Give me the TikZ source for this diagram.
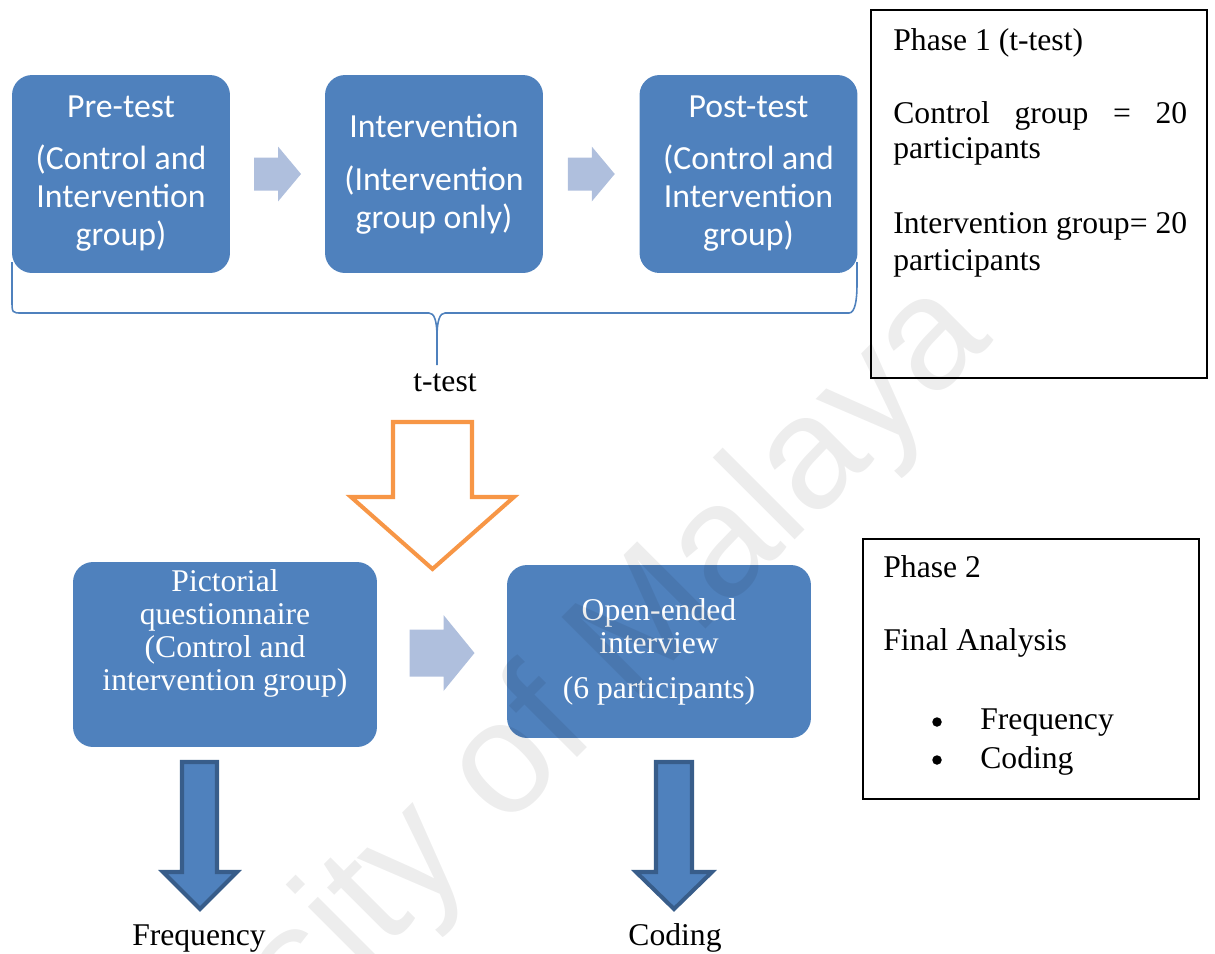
\documentclass[tikz,border=0pt]{standalone}
\usepackage{fontspec}
\setmainfont{Liberation Serif}
\newfontfamily\calfont{Carlito}
\newfontfamily\markfont{Liberation Sans}
\usetikzlibrary{calc}
\definecolor{boxblue}{HTML}{4F81BD}
\definecolor{paleblue}{RGB}{175,191,221}
\definecolor{outlineblue}{HTML}{385D8A}
\definecolor{accentorange}{HTML}{F79646}

\begin{document}
\begin{tikzpicture}[x=0.02cm,y=-0.02cm,
  stage/.style={rectangle, rounded corners=0.4cm, fill=boxblue, text=white,
    align=center, inner sep=0pt},
  topstage/.style={stage, minimum width=4.36cm, minimum height=3.96cm,
    font=\calfont\fontsize{19.2}{21.6}\selectfont},
  lowstage/.style={stage, minimum width=6.08cm, font=\fontsize{18}{18.8}\selectfont},
  lowtext/.style={inner sep=0pt, align=center, text=white,
    font=\fontsize{18}{18.8}\selectfont},
  phasebox/.style={rectangle, draw=black, line width=1.1pt, inner sep=0pt},
  plain/.style={inner sep=0pt, font=\fontsize{18}{20}\selectfont},
  dot/.style={circle, fill=black, inner sep=0pt, minimum size=0.19cm},
  pale/.style={fill=paleblue},
  hollow/.style={draw=accentorange, line width=2.3pt, fill=white, line join=miter},
  downarrow/.style={fill=boxblue, draw=outlineblue, line width=2.3pt, line join=miter},
  brace/.style={draw=boxblue, line width=0.9pt},
  watermark/.style={inner sep=0pt, text=black, text opacity=0.07,
    font=\markfont\fontsize{91}{91}\selectfont}
]
\useasboundingbox (0,0) rectangle (1215,954);

% brace gathering the three first-phase stages
\draw[brace] (12,262) -- (12,300) .. controls (12,313) .. (22,313) -- (429,313)
  .. controls (434,313) and (437,320) .. (437,337) -- (437,365);
\draw[brace] (437,337) .. controls (437,320) and (440,313) .. (445,313) -- (849,313)
  .. controls (855,313) and (857,300) .. (857,285) -- (857,262);
\node[plain, anchor=base] (ttest) at (445,391) {t-test};

% phase 1 stages
\node[topstage] (pre) at (121,174) {Pre-test\\[8pt](Control and\\Intervention\\group)};
\node[topstage] (int) at (434,174) {Intervention\\[8.5pt](Intervention\\group only)};
\node[topstage] (post) at (748.5,174) {Post-test\\[8pt](Control and\\Intervention\\group)};

\coordinate (a1) at ($(pre.east)!.5!(int.west)$);
\coordinate (a2) at ($(int.east)!.5!(post.west)$);
\fill[pale, shift={(a1)}] (-23.5,-16.5) -- (0.5,-16.5) -- (0.5,-27.5) -- (23.5,0)
  -- (0.5,27.5) -- (0.5,16.5) -- (-23.5,16.5) -- cycle;
\fill[pale, shift={(a2)}] (-23.5,-16.5) -- (0.5,-16.5) -- (0.5,-27.5) -- (23.5,0)
  -- (0.5,27.5) -- (0.5,16.5) -- (-23.5,16.5) -- cycle;

% phase 1 summary
\node[phasebox, minimum width=6.72cm, minimum height=7.36cm] (ph1) at (1039,194) {};
\node[plain, anchor=base west] (ph1a) at (893,50) {Phase 1 (t-test)};
\node[plain, anchor=base west] (ph1b) at (893,123) {\makebox[5.88cm][s]{Control group = 20}};
\node[plain, anchor=base west] (ph1c) at (893,158) {participants};
\node[plain, anchor=base west] (ph1d) at (893,233) {\makebox[5.88cm][s]{Intervention group= 20}};
\node[plain, anchor=base west] (ph1e) at (893,270) {participants};

% transition to phase 2
\draw[hollow] (393,422) -- (472,422) -- (472,497) -- (514,497) -- (432.5,569)
  -- (351,497) -- (393,497) -- cycle;

% phase 2 stages
\node[lowstage, minimum height=3.7cm] (pict) at (225,654.5) {};
\node[lowtext] (picttext) at (225,633)
  {Pictorial\\questionnaire\\(Control and\\intervention group)};
\node[lowstage, minimum height=3.46cm] (open) at (659,651.5)
  {Open-ended\\interview\\[6.8pt](6 participants)};

\coordinate (a3) at ($(pict.east)!.5!(open.west)$);
\fill[pale, shift={(a3)}] (-32.5,-23.5) -- (1.5,-23.5) -- (1.5,-38) -- (32.5,0)
  -- (1.5,38) -- (1.5,23.5) -- (-32.5,23.5) -- cycle;

% outcomes
\draw[downarrow] (182,762) -- (217,762) -- (217,872) -- (237,872) -- (200,909)
  -- (163,872) -- (182,872) -- cycle;
\draw[downarrow] (656,762) -- (692,762) -- (692,872) -- (712,872) -- (674,909)
  -- (636,872) -- (656,872) -- cycle;
\node[plain, anchor=base] (freq) at (199,945) {Frequency};
\node[plain, anchor=base] (cod) at (675,945) {Coding};

% phase 2 summary
\node[phasebox, minimum width=6.72cm, minimum height=5.2cm] (ph2) at (1031,669) {};
\node[plain, anchor=base west] (ph2a) at (883,577) {Phase 2};
\node[plain, anchor=base west] (ph2b) at (883,650) {Final Analysis};
\node[dot] (b1) at (937,722) {};
\node[plain, anchor=base west] (ph2c) at (980,729) {Frequency};
\node[dot] (b2) at (937,760) {};
\node[plain, anchor=base west] (ph2d) at (980,768) {Coding};

% faint diagonal mark across the page
\node[watermark, anchor=base east, rotate=45] (mark) at (995,340) {University of Malaya};
\end{tikzpicture}
\end{document}
